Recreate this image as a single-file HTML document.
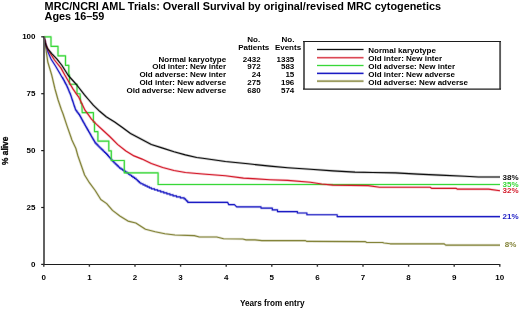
<!DOCTYPE html>
<html><head><meta charset="utf-8"><style>
html,body{margin:0;padding:0;background:#fff;width:520px;height:309px;overflow:hidden}
svg{display:block;filter:blur(0.3px)}
text{font-family:"Liberation Sans",sans-serif;font-weight:bold;fill:#000}
.t{font-size:10.86px}
.l{font-size:8px}
.a{font-size:8px}
.e{font-size:8px}
</style></head><body>
<svg width="520" height="309" viewBox="0 0 520 309">
<text x="44.6" y="10.2" class="t">MRC/NCRI AML Trials: Overall Survival by original/revised MRC cytogenetics</text>
<text x="44.6" y="20.4" class="t">Ages 16–59</text>
<path d="M44.0,36.8 L45.0,43.0 L45.9,49.0 L47.8,62.0 L51.7,75.0 L55.0,89.0 L58.1,100.0 L61.5,110.0 L62.9,113.5 L67.0,125.9 L71.0,137.2 L71.9,140.0 L75.9,148.5 L77.8,155.5 L84.6,175.0 L89.4,182.7 L95.2,190.5 L100.8,199.5 L106.7,203.6 L112.5,210.4 L120.2,216.2 L128.0,221.1 L135.8,223.0 L145.5,229.3 L155.2,231.7 L164.9,233.7 L175.0,235.0 L194.2,235.6 L199.4,237.0 L216.7,237.0 L223.6,238.7 L242.7,239.0 L246.1,239.9 L255.0,239.9 L261.9,240.6 L305.2,240.6 L306.9,241.4 L365.1,241.6 L366.8,242.5 L382.4,242.5 L384.1,243.0 L390.2,243.8 L444.0,243.8 L445.8,245.1 L500.0,245.1" fill="none" stroke="#84843a" stroke-opacity="0.22" stroke-width="2.6" stroke-linejoin="round"/>
<path d="M44.0,36.8 L45.0,43.0 L45.9,49.0 L47.8,62.0 L51.7,75.0 L55.0,89.0 L58.1,100.0 L61.5,110.0 L62.9,113.5 L67.0,125.9 L71.0,137.2 L71.9,140.0 L75.9,148.5 L77.8,155.5 L84.6,175.0 L89.4,182.7 L95.2,190.5 L100.8,199.5 L106.7,203.6 L112.5,210.4 L120.2,216.2 L128.0,221.1 L135.8,223.0 L145.5,229.3 L155.2,231.7 L164.9,233.7 L175.0,235.0 L194.2,235.6 L199.4,237.0 L216.7,237.0 L223.6,238.7 L242.7,239.0 L246.1,239.9 L255.0,239.9 L261.9,240.6 L305.2,240.6 L306.9,241.4 L365.1,241.6 L366.8,242.5 L382.4,242.5 L384.1,243.0 L390.2,243.8 L444.0,243.8 L445.8,245.1 L500.0,245.1" fill="none" stroke="#84843a" stroke-width="1.15" stroke-linejoin="round"/>
<path d="M44.0,36.8 L46.0,45.0 L48.0,52.0 L51.0,59.0 L55.5,66.0 L60.2,74.0 L62.0,77.3 L62.6,77.3 L62.6,78.4 L63.2,78.4 L63.2,79.5 L63.8,79.5 L63.8,80.6 L64.4,80.6 L64.4,81.8 L65.0,81.8 L65.0,82.9 L65.6,82.9 L65.6,84.0 L66.2,84.0 L66.2,85.1 L66.8,85.1 L66.8,86.2 L67.3,86.2 L67.3,87.4 L67.8,87.4 L67.8,88.6 L68.3,88.6 L68.3,89.8 L68.8,89.8 L68.8,91.0 L69.3,91.0 L69.3,92.2 L69.8,92.2 L69.8,93.3 L70.3,93.3 L70.3,94.5 L70.7,94.5 L70.7,95.6 L71.1,95.6 L71.1,96.8 L71.5,96.8 L71.5,98.0 L71.9,98.0 L71.9,99.2 L72.3,99.2 L72.3,100.4 L72.7,100.4 L72.7,101.6 L73.1,101.6 L73.1,102.8 L73.5,102.8 L73.5,104.0 L73.9,104.0 L73.9,105.2 L74.3,105.2 L74.3,106.4 L74.7,106.4 L74.7,107.6 L75.1,107.6 L75.1,108.8 L75.5,108.8 L75.5,110.0 L76.3,110.0 L76.3,111.1 L77.1,111.1 L77.1,112.2 L77.9,112.2 L77.9,113.2 L78.7,113.2 L78.7,114.3 L79.5,114.3 L79.5,115.4 L80.1,115.4 L80.1,116.5 L80.7,116.5 L80.7,117.6 L81.3,117.6 L81.3,118.7 L81.9,118.7 L81.9,119.8 L82.5,119.8 L82.5,120.9 L83.1,120.9 L83.1,122.0 L83.7,122.0 L83.7,123.0 L84.3,123.0 L84.3,124.1 L84.9,124.1 L84.9,125.2 L85.5,125.2 L85.5,126.2 L86.1,126.2 L86.1,127.3 L86.7,127.3 L86.7,128.3 L87.3,128.3 L87.3,129.4 L87.9,129.4 L87.9,130.4 L88.5,130.4 L88.5,131.5 L89.1,131.5 L89.1,132.5 L89.7,132.5 L89.7,133.6 L90.3,133.6 L90.3,134.6 L90.9,134.6 L90.9,135.7 L91.5,135.7 L91.5,136.7 L92.1,136.7 L92.1,137.7 L92.7,137.7 L92.7,138.8 L93.3,138.8 L93.3,139.8 L93.9,139.8 L93.9,140.8 L94.5,140.8 L94.5,141.8 L95.1,141.8 L95.1,142.9 L96.0,142.9 L96.0,143.9 L97.0,143.9 L97.0,144.9 L98.0,144.9 L98.0,146.0 L99.0,146.0 L99.0,147.0 L100.0,147.0 L100.0,148.0 L101.1,148.0 L101.1,149.1 L102.2,149.1 L102.2,150.1 L103.3,150.1 L103.3,151.2 L104.4,151.2 L104.4,152.3 L105.5,152.3 L105.5,153.3 L106.6,153.3 L106.6,154.4 L107.5,154.4 L107.5,155.4 L108.4,155.4 L108.4,156.5 L109.3,156.5 L109.3,157.5 L110.2,157.5 L110.2,158.5 L111.1,158.5 L111.1,159.5 L112.0,159.5 L112.0,160.6 L112.9,160.6 L112.9,161.6 L114.0,161.6 L114.0,162.7 L115.1,162.7 L115.1,163.8 L116.2,163.8 L116.2,164.8 L117.3,164.8 L117.3,165.9 L118.4,165.9 L118.4,167.0 L119.5,167.0 L119.5,168.1 L121.0,168.1 L121.0,169.1 L122.5,169.1 L122.5,170.1 L124.0,170.1 L124.0,171.1 L125.5,171.1 L125.5,172.1 L127.0,172.1 L127.0,173.1 L128.5,173.1 L128.5,174.2 L130.0,174.2 L130.0,175.2 L131.5,175.2 L131.5,176.3 L133.0,176.3 L133.0,177.4 L134.5,177.4 L134.5,178.4 L136.0,178.4 L136.0,179.5 L137.2,179.5 L137.2,180.6 L138.3,180.6 L138.3,181.6 L139.4,181.6 L139.4,182.7 L140.9,182.7 L140.9,183.7 L143.0,183.7 L143.0,184.8 L145.1,184.8 L145.1,185.8 L147.2,185.8 L147.2,186.8 L149.3,186.8 L149.3,187.8 L151.4,187.8 L151.4,188.8 L154.5,188.8 L154.5,189.8 L157.6,189.8 L157.6,190.8 L160.7,190.8 L160.7,191.9 L163.8,191.9 L163.8,192.9 L166.9,192.9 L166.9,193.9 L170.0,193.9 L170.0,194.9 L173.1,194.9 L173.1,195.9 L176.5,195.9 L176.5,196.9 L180.4,196.9 L180.4,197.9 L184.2,197.9 L184.2,198.9 L185.5,198.9 L185.5,200.0 L186.6,200.0 L186.6,201.1 L187.7,201.1 L187.7,202.2 L188.0,202.4 L227.6,202.4 L228.8,204.6 L234.4,204.6 L236.7,206.9 L261.0,206.9 L261.0,208.1 L272.3,208.1 L272.3,209.9 L277.5,209.9 L277.5,211.6 L297.4,211.6 L297.4,213.0 L306.9,213.0 L306.9,214.7 L337.2,214.7 L337.2,216.6 L500.0,216.6" fill="none" stroke="#1c1cc4" stroke-opacity="0.22" stroke-width="2.6" stroke-linejoin="round"/>
<path d="M44.0,36.8 L46.0,45.0 L48.0,52.0 L51.0,59.0 L55.5,66.0 L60.2,74.0 L62.0,77.3 L62.6,77.3 L62.6,78.4 L63.2,78.4 L63.2,79.5 L63.8,79.5 L63.8,80.6 L64.4,80.6 L64.4,81.8 L65.0,81.8 L65.0,82.9 L65.6,82.9 L65.6,84.0 L66.2,84.0 L66.2,85.1 L66.8,85.1 L66.8,86.2 L67.3,86.2 L67.3,87.4 L67.8,87.4 L67.8,88.6 L68.3,88.6 L68.3,89.8 L68.8,89.8 L68.8,91.0 L69.3,91.0 L69.3,92.2 L69.8,92.2 L69.8,93.3 L70.3,93.3 L70.3,94.5 L70.7,94.5 L70.7,95.6 L71.1,95.6 L71.1,96.8 L71.5,96.8 L71.5,98.0 L71.9,98.0 L71.9,99.2 L72.3,99.2 L72.3,100.4 L72.7,100.4 L72.7,101.6 L73.1,101.6 L73.1,102.8 L73.5,102.8 L73.5,104.0 L73.9,104.0 L73.9,105.2 L74.3,105.2 L74.3,106.4 L74.7,106.4 L74.7,107.6 L75.1,107.6 L75.1,108.8 L75.5,108.8 L75.5,110.0 L76.3,110.0 L76.3,111.1 L77.1,111.1 L77.1,112.2 L77.9,112.2 L77.9,113.2 L78.7,113.2 L78.7,114.3 L79.5,114.3 L79.5,115.4 L80.1,115.4 L80.1,116.5 L80.7,116.5 L80.7,117.6 L81.3,117.6 L81.3,118.7 L81.9,118.7 L81.9,119.8 L82.5,119.8 L82.5,120.9 L83.1,120.9 L83.1,122.0 L83.7,122.0 L83.7,123.0 L84.3,123.0 L84.3,124.1 L84.9,124.1 L84.9,125.2 L85.5,125.2 L85.5,126.2 L86.1,126.2 L86.1,127.3 L86.7,127.3 L86.7,128.3 L87.3,128.3 L87.3,129.4 L87.9,129.4 L87.9,130.4 L88.5,130.4 L88.5,131.5 L89.1,131.5 L89.1,132.5 L89.7,132.5 L89.7,133.6 L90.3,133.6 L90.3,134.6 L90.9,134.6 L90.9,135.7 L91.5,135.7 L91.5,136.7 L92.1,136.7 L92.1,137.7 L92.7,137.7 L92.7,138.8 L93.3,138.8 L93.3,139.8 L93.9,139.8 L93.9,140.8 L94.5,140.8 L94.5,141.8 L95.1,141.8 L95.1,142.9 L96.0,142.9 L96.0,143.9 L97.0,143.9 L97.0,144.9 L98.0,144.9 L98.0,146.0 L99.0,146.0 L99.0,147.0 L100.0,147.0 L100.0,148.0 L101.1,148.0 L101.1,149.1 L102.2,149.1 L102.2,150.1 L103.3,150.1 L103.3,151.2 L104.4,151.2 L104.4,152.3 L105.5,152.3 L105.5,153.3 L106.6,153.3 L106.6,154.4 L107.5,154.4 L107.5,155.4 L108.4,155.4 L108.4,156.5 L109.3,156.5 L109.3,157.5 L110.2,157.5 L110.2,158.5 L111.1,158.5 L111.1,159.5 L112.0,159.5 L112.0,160.6 L112.9,160.6 L112.9,161.6 L114.0,161.6 L114.0,162.7 L115.1,162.7 L115.1,163.8 L116.2,163.8 L116.2,164.8 L117.3,164.8 L117.3,165.9 L118.4,165.9 L118.4,167.0 L119.5,167.0 L119.5,168.1 L121.0,168.1 L121.0,169.1 L122.5,169.1 L122.5,170.1 L124.0,170.1 L124.0,171.1 L125.5,171.1 L125.5,172.1 L127.0,172.1 L127.0,173.1 L128.5,173.1 L128.5,174.2 L130.0,174.2 L130.0,175.2 L131.5,175.2 L131.5,176.3 L133.0,176.3 L133.0,177.4 L134.5,177.4 L134.5,178.4 L136.0,178.4 L136.0,179.5 L137.2,179.5 L137.2,180.6 L138.3,180.6 L138.3,181.6 L139.4,181.6 L139.4,182.7 L140.9,182.7 L140.9,183.7 L143.0,183.7 L143.0,184.8 L145.1,184.8 L145.1,185.8 L147.2,185.8 L147.2,186.8 L149.3,186.8 L149.3,187.8 L151.4,187.8 L151.4,188.8 L154.5,188.8 L154.5,189.8 L157.6,189.8 L157.6,190.8 L160.7,190.8 L160.7,191.9 L163.8,191.9 L163.8,192.9 L166.9,192.9 L166.9,193.9 L170.0,193.9 L170.0,194.9 L173.1,194.9 L173.1,195.9 L176.5,195.9 L176.5,196.9 L180.4,196.9 L180.4,197.9 L184.2,197.9 L184.2,198.9 L185.5,198.9 L185.5,200.0 L186.6,200.0 L186.6,201.1 L187.7,201.1 L187.7,202.2 L188.0,202.4 L227.6,202.4 L228.8,204.6 L234.4,204.6 L236.7,206.9 L261.0,206.9 L261.0,208.1 L272.3,208.1 L272.3,209.9 L277.5,209.9 L277.5,211.6 L297.4,211.6 L297.4,213.0 L306.9,213.0 L306.9,214.7 L337.2,214.7 L337.2,216.6 L500.0,216.6" fill="none" stroke="#1c1cc4" stroke-width="1.15" stroke-linejoin="round"/>
<path d="M44.0,36.8 L51.0,36.8 L51.0,46.3 L58.0,46.3 L58.0,55.8 L65.5,55.8 L65.5,65.3 L68.8,65.3 L68.8,74.7 L69.5,74.7 L69.5,84.2 L77.0,84.2 L77.0,93.7 L80.0,93.7 L80.8,103.2 L81.8,103.2 L82.2,112.6 L93.4,112.6 L93.4,122.1 L94.5,122.1 L94.5,131.6 L97.9,131.6 L97.9,141.1 L108.8,141.1 L108.8,150.8 L111.3,150.8 L111.3,160.5 L124.3,160.5 L124.3,172.8 L158.1,172.8 L158.1,184.5 L500.0,184.5" fill="none" stroke="#38d838" stroke-opacity="0.22" stroke-width="2.6" stroke-linejoin="round"/>
<path d="M44.0,36.8 L51.0,36.8 L51.0,46.3 L58.0,46.3 L58.0,55.8 L65.5,55.8 L65.5,65.3 L68.8,65.3 L68.8,74.7 L69.5,74.7 L69.5,84.2 L77.0,84.2 L77.0,93.7 L80.0,93.7 L80.8,103.2 L81.8,103.2 L82.2,112.6 L93.4,112.6 L93.4,122.1 L94.5,122.1 L94.5,131.6 L97.9,131.6 L97.9,141.1 L108.8,141.1 L108.8,150.8 L111.3,150.8 L111.3,160.5 L124.3,160.5 L124.3,172.8 L158.1,172.8 L158.1,184.5 L500.0,184.5" fill="none" stroke="#38d838" stroke-width="1.15" stroke-linejoin="round"/>
<path d="M44.0,36.8 L46.0,45.0 L48.5,50.5 L54.5,60.0 L61.0,68.1 L64.8,75.0 L68.3,81.0 L73.1,89.1 L76.5,94.1 L78.8,97.2 L83.0,106.0 L85.0,110.2 L89.4,116.1 L91.5,119.2 L96.5,124.3 L103.2,130.5 L109.7,136.5 L117.8,144.6 L125.9,151.0 L134.0,155.9 L142.1,159.1 L151.3,163.5 L162.7,167.5 L174.0,170.5 L185.4,172.5 L202.7,174.0 L225.4,175.8 L243.5,178.1 L270.0,179.7 L287.7,180.4 L310.4,182.2 L321.7,184.0 L333.0,185.1 L368.1,185.6 L379.5,187.2 L430.0,187.2 L431.6,188.3 L456.0,188.3 L457.2,189.1 L488.5,189.1 L500.0,190.8" fill="none" stroke="#d41c2c" stroke-opacity="0.22" stroke-width="2.6" stroke-linejoin="round"/>
<path d="M44.0,36.8 L46.0,45.0 L48.5,50.5 L54.5,60.0 L61.0,68.1 L64.8,75.0 L68.3,81.0 L73.1,89.1 L76.5,94.1 L78.8,97.2 L83.0,106.0 L85.0,110.2 L89.4,116.1 L91.5,119.2 L96.5,124.3 L103.2,130.5 L109.7,136.5 L117.8,144.6 L125.9,151.0 L134.0,155.9 L142.1,159.1 L151.3,163.5 L162.7,167.5 L174.0,170.5 L185.4,172.5 L202.7,174.0 L225.4,175.8 L243.5,178.1 L270.0,179.7 L287.7,180.4 L310.4,182.2 L321.7,184.0 L333.0,185.1 L368.1,185.6 L379.5,187.2 L430.0,187.2 L431.6,188.3 L456.0,188.3 L457.2,189.1 L488.5,189.1 L500.0,190.8" fill="none" stroke="#d41c2c" stroke-width="1.15" stroke-linejoin="round"/>
<path d="M44.0,36.8 L45.5,44.0 L47.3,48.3 L52.0,53.8 L57.0,59.2 L62.0,65.5 L68.3,75.5 L76.4,84.5 L84.5,94.8 L88.0,99.0 L93.3,105.2 L99.7,111.3 L106.2,116.8 L114.3,121.8 L122.4,127.5 L130.5,133.5 L140.0,138.5 L151.3,144.5 L162.7,148.1 L174.0,151.8 L185.4,154.9 L196.7,157.5 L202.7,158.3 L225.4,161.5 L248.0,163.8 L270.0,166.1 L287.7,167.7 L310.4,169.3 L333.0,170.9 L355.0,172.1 L372.7,172.5 L395.4,172.9 L418.0,174.1 L440.0,175.1 L465.0,176.2 L478.5,177.0 L500.0,177.0" fill="none" stroke="#111111" stroke-opacity="0.22" stroke-width="2.6" stroke-linejoin="round"/>
<path d="M44.0,36.8 L45.5,44.0 L47.3,48.3 L52.0,53.8 L57.0,59.2 L62.0,65.5 L68.3,75.5 L76.4,84.5 L84.5,94.8 L88.0,99.0 L93.3,105.2 L99.7,111.3 L106.2,116.8 L114.3,121.8 L122.4,127.5 L130.5,133.5 L140.0,138.5 L151.3,144.5 L162.7,148.1 L174.0,151.8 L185.4,154.9 L196.7,157.5 L202.7,158.3 L225.4,161.5 L248.0,163.8 L270.0,166.1 L287.7,167.7 L310.4,169.3 L333.0,170.9 L355.0,172.1 L372.7,172.5 L395.4,172.9 L418.0,174.1 L440.0,175.1 L465.0,176.2 L478.5,177.0 L500.0,177.0" fill="none" stroke="#111111" stroke-width="1.15" stroke-linejoin="round"/>
<line x1="44" y1="36.8" x2="44" y2="265" stroke="#5a5a5a" stroke-width="1.9"/>
<line x1="43" y1="264.5" x2="500" y2="264.5" stroke="#1c1c1c" stroke-width="1.2"/>
<line x1="41.2" y1="264.4" x2="44" y2="264.4" stroke="#1c1c1c" stroke-width="1.2"/>
<text x="35.5" y="266.8" class="a" text-anchor="end">0</text>
<line x1="41.2" y1="207.5" x2="44" y2="207.5" stroke="#1c1c1c" stroke-width="1.2"/>
<text x="35.5" y="209.9" class="a" text-anchor="end">25</text>
<line x1="41.2" y1="150.6" x2="44" y2="150.6" stroke="#1c1c1c" stroke-width="1.2"/>
<text x="35.5" y="153.0" class="a" text-anchor="end">50</text>
<line x1="41.2" y1="93.7" x2="44" y2="93.7" stroke="#1c1c1c" stroke-width="1.2"/>
<text x="35.5" y="96.1" class="a" text-anchor="end">75</text>
<line x1="41.2" y1="36.8" x2="44" y2="36.8" stroke="#1c1c1c" stroke-width="1.2"/>
<text x="35.5" y="39.2" class="a" text-anchor="end">100</text>
<line x1="43.8" y1="264" x2="43.8" y2="266.7" stroke="#333" stroke-width="1.4"/>
<text x="43.8" y="280.3" class="a" text-anchor="middle">0</text>
<line x1="89.4" y1="264" x2="89.4" y2="266.7" stroke="#333" stroke-width="1.4"/>
<text x="89.4" y="280.3" class="a" text-anchor="middle">1</text>
<line x1="135.0" y1="264" x2="135.0" y2="266.7" stroke="#333" stroke-width="1.4"/>
<text x="135.0" y="280.3" class="a" text-anchor="middle">2</text>
<line x1="180.6" y1="264" x2="180.6" y2="266.7" stroke="#333" stroke-width="1.4"/>
<text x="180.6" y="280.3" class="a" text-anchor="middle">3</text>
<line x1="226.2" y1="264" x2="226.2" y2="266.7" stroke="#333" stroke-width="1.4"/>
<text x="226.2" y="280.3" class="a" text-anchor="middle">4</text>
<line x1="271.8" y1="264" x2="271.8" y2="266.7" stroke="#333" stroke-width="1.4"/>
<text x="271.8" y="280.3" class="a" text-anchor="middle">5</text>
<line x1="317.4" y1="264" x2="317.4" y2="266.7" stroke="#333" stroke-width="1.4"/>
<text x="317.4" y="280.3" class="a" text-anchor="middle">6</text>
<line x1="363.0" y1="264" x2="363.0" y2="266.7" stroke="#333" stroke-width="1.4"/>
<text x="363.0" y="280.3" class="a" text-anchor="middle">7</text>
<line x1="408.6" y1="264" x2="408.6" y2="266.7" stroke="#333" stroke-width="1.4"/>
<text x="408.6" y="280.3" class="a" text-anchor="middle">8</text>
<line x1="454.2" y1="264" x2="454.2" y2="266.7" stroke="#333" stroke-width="1.4"/>
<text x="454.2" y="280.3" class="a" text-anchor="middle">9</text>
<line x1="499.8" y1="264" x2="499.8" y2="266.7" stroke="#333" stroke-width="1.4"/>
<text x="499.8" y="280.3" class="a" text-anchor="middle">10</text>
<text x="272.2" y="305.9" class="l" text-anchor="middle" style="font-size:8.2px">Years from entry</text>
<text transform="translate(7.8,150.8) rotate(-90)" x="0" y="0" class="l" text-anchor="middle" style="font-size:8.4px;stroke:#000;stroke-width:0.3px">% alive</text>
<text x="253.7" y="42.3" class="l" text-anchor="middle">No.</text>
<text x="253.7" y="50.0" class="l" text-anchor="middle">Patients</text>
<text x="288" y="42.3" class="l" text-anchor="middle">No.</text>
<text x="288" y="50.0" class="l" text-anchor="middle">Events</text>
<text x="226.1" y="61.6" class="l" text-anchor="end">Normal karyotype</text>
<text x="260.6" y="61.6" class="l" text-anchor="end">2432</text>
<text x="294.3" y="61.6" class="l" text-anchor="end">1335</text>
<text x="226.1" y="69.4" class="l" text-anchor="end">Old inter: New inter</text>
<text x="260.6" y="69.4" class="l" text-anchor="end">972</text>
<text x="294.3" y="69.4" class="l" text-anchor="end">583</text>
<text x="226.1" y="77.3" class="l" text-anchor="end">Old adverse: New inter</text>
<text x="260.6" y="77.3" class="l" text-anchor="end">24</text>
<text x="294.3" y="77.3" class="l" text-anchor="end">15</text>
<text x="226.1" y="85.4" class="l" text-anchor="end">Old inter: New adverse</text>
<text x="260.6" y="85.4" class="l" text-anchor="end">275</text>
<text x="294.3" y="85.4" class="l" text-anchor="end">196</text>
<text x="226.1" y="93.1" class="l" text-anchor="end">Old adverse: New adverse</text>
<text x="260.6" y="93.1" class="l" text-anchor="end">680</text>
<text x="294.3" y="93.1" class="l" text-anchor="end">574</text>
<rect x="304" y="41.5" width="196.1" height="47.6" fill="none" stroke="none"/>
<line x1="304" y1="41.5" x2="304" y2="89.1" stroke="#5a5a5a" stroke-width="1.9"/>
<line x1="500.1" y1="41.5" x2="500.1" y2="89.1" stroke="#5a5a5a" stroke-width="1.9"/>
<line x1="303" y1="41.5" x2="501" y2="41.5" stroke="#1c1c1c" stroke-width="1.2"/>
<line x1="303" y1="89.1" x2="501" y2="89.1" stroke="#1c1c1c" stroke-width="1.2"/>
<line x1="317" y1="49.5" x2="363.5" y2="49.5" stroke="#111111" stroke-opacity="0.22" stroke-width="2.6"/>
<line x1="317" y1="49.5" x2="363.5" y2="49.5" stroke="#111111" stroke-width="1.15"/>
<text x="368.3" y="52.8" class="l">Normal karyotype</text>
<line x1="317" y1="57.7" x2="363.5" y2="57.7" stroke="#d41c2c" stroke-opacity="0.22" stroke-width="2.6"/>
<line x1="317" y1="57.7" x2="363.5" y2="57.7" stroke="#d41c2c" stroke-width="1.15"/>
<text x="368.3" y="60.7" class="l">Old inter: New inter</text>
<line x1="317" y1="65.5" x2="363.5" y2="65.5" stroke="#38d838" stroke-opacity="0.22" stroke-width="2.6"/>
<line x1="317" y1="65.5" x2="363.5" y2="65.5" stroke="#38d838" stroke-width="1.15"/>
<text x="368.3" y="68.6" class="l">Old adverse: New inter</text>
<line x1="317" y1="73.4" x2="363.5" y2="73.4" stroke="#1c1cc4" stroke-opacity="0.22" stroke-width="2.6"/>
<line x1="317" y1="73.4" x2="363.5" y2="73.4" stroke="#1c1cc4" stroke-width="1.15"/>
<text x="368.3" y="76.5" class="l">Old inter: New adverse</text>
<line x1="317" y1="81.1" x2="363.5" y2="81.1" stroke="#84843a" stroke-opacity="0.22" stroke-width="2.6"/>
<line x1="317" y1="81.1" x2="363.5" y2="81.1" stroke="#84843a" stroke-width="1.15"/>
<text x="368.3" y="85.1" class="l">Old adverse: New adverse</text>
<text x="502.6" y="179.6" class="e" style="fill:#111111">38%</text>
<text x="502.6" y="187.2" class="e" style="fill:#38d838">35%</text>
<text x="502.6" y="192.7" class="e" style="fill:#d41c2c">32%</text>
<text x="502.6" y="218.8" class="e" style="fill:#1c1cc4">21%</text>
<text x="502.6" y="247.4" class="e" style="fill:#84843a"> 8%</text>
</svg>
</body></html>
